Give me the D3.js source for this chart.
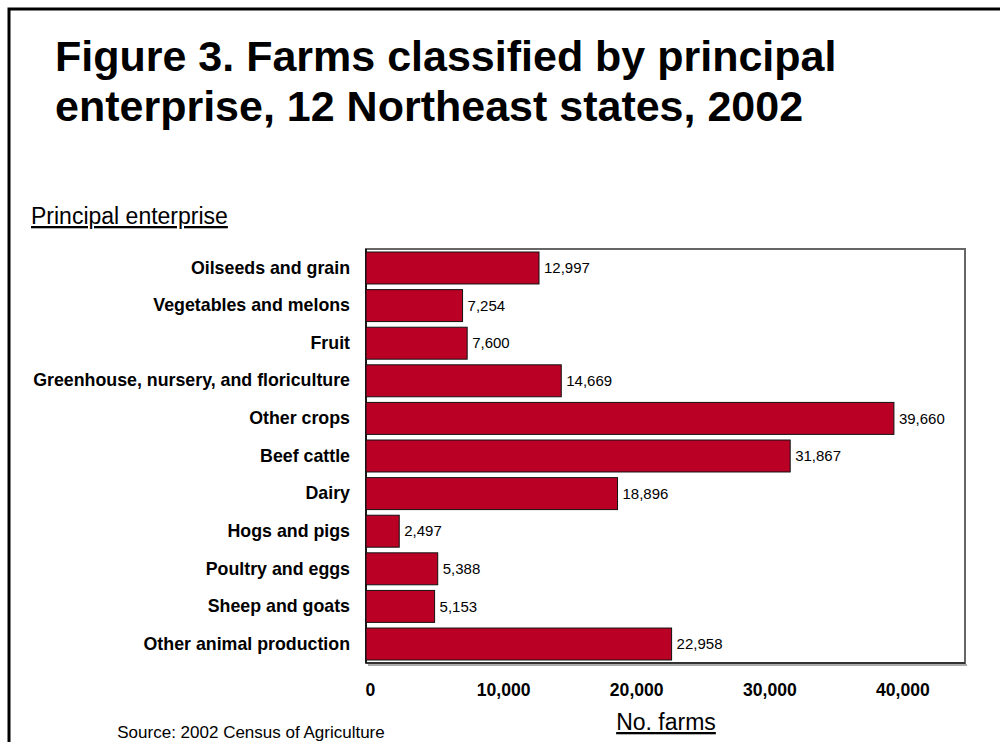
<!DOCTYPE html>
<html>
<head>
<meta charset="utf-8">
<script src="https://cdn.jsdelivr.net/npm/d3@7"></script>
<style>
  html, body { margin: 0; padding: 0; background: #fff; }
  svg { display: block; font-family: "Liberation Sans", Arial, sans-serif; }
</style>
</head>
<body>
<svg id="chart" width="1000" height="742"></svg>
<script>
// Farms by principal enterprise, 12 Northeast states, 2002 Census of Agriculture
const categories = [
  "Oilseeds and grain",
  "Vegetables and melons",
  "Fruit",
  "Greenhouse, nursery, and floriculture",
  "Other crops",
  "Beef cattle",
  "Dairy",
  "Hogs and pigs",
  "Poultry and eggs",
  "Sheep and goats",
  "Other animal production"
];
const farms = [12997, 7254, 7600, 14669, 39660, 31867, 18896, 2497, 5388, 5153, 22958];
const tickValues = [0, 10000, 20000, 30000, 40000];

const svg = d3.select("#chart");
const fmt = d3.format(",");

// outer slide frame
svg.append("rect")
  .attr("x", 9).attr("y", 9)
  .attr("width", 1100).attr("height", 900)
  .attr("fill", "none").attr("stroke", "#000").attr("stroke-width", 3);

// title
const title = svg.append("text")
  .attr("font-size", 43).attr("font-weight", "bold").attr("fill", "#000");
title.append("tspan").attr("x", 55).attr("y", 71).text("Figure 3. Farms classified by principal");
title.append("tspan").attr("x", 55).attr("y", 121).text("enterprise, 12 Northeast states, 2002");

// plot area
const plot = { left: 366, top: 249, right: 965, bottom: 663 };

const x = d3.scaleLinear().domain([0, 45000]).range([plot.left, plot.right]);
const y = d3.scaleBand().domain(categories).range([plot.top, plot.bottom]).paddingInner(0.15).paddingOuter(0.08);

// plot frame with soft shadow on the bottom
svg.append("line")
  .attr("x1", plot.left + 2).attr("x2", plot.right + 2)
  .attr("y1", plot.bottom + 2).attr("y2", plot.bottom + 2)
  .attr("stroke", "#aaa").attr("stroke-width", 2);
svg.append("rect")
  .attr("x", plot.left).attr("y", plot.top)
  .attr("width", plot.right - plot.left).attr("height", plot.bottom - plot.top)
  .attr("fill", "#fff").attr("stroke", "#666").attr("stroke-width", 2);
svg.append("line")
  .attr("x1", plot.left).attr("x2", plot.left)
  .attr("y1", plot.top).attr("y2", plot.bottom)
  .attr("stroke", "#000").attr("stroke-width", 1.5);
svg.append("line")
  .attr("x1", plot.left).attr("x2", plot.right)
  .attr("y1", plot.bottom).attr("y2", plot.bottom)
  .attr("stroke", "#222").attr("stroke-width", 1.5);

const data = categories.map((c, i) => ({ cat: c, val: farms[i] }));

// bars
svg.append("g").selectAll("rect")
  .data(data).join("rect")
  .attr("x", x(0))
  .attr("y", d => y(d.cat))
  .attr("width", d => x(d.val) - x(0))
  .attr("height", y.bandwidth())
  .attr("fill", "#bb0026")
  .attr("stroke", "#111").attr("stroke-width", 1);

// value labels
svg.append("g").selectAll("text")
  .data(data).join("text")
  .attr("x", d => x(d.val) + 5)
  .attr("y", d => y(d.cat) + y.bandwidth() / 2)
  .attr("dy", "0.35em")
  .attr("font-size", 15).attr("fill", "#000")
  .text(d => fmt(d.val));

// category axis labels
const yAxis = d3.axisLeft(y).tickSize(0).tickPadding(16);
const yg = svg.append("g").attr("transform", `translate(${plot.left},0)`).call(yAxis);
yg.select(".domain").remove();
yg.selectAll("text")
  .attr("font-family", "Liberation Sans, Arial, sans-serif")
  .attr("font-size", 17.8).attr("font-weight", "bold").attr("fill", "#000");

// value axis labels
const xAxis = d3.axisBottom(x).tickValues(tickValues).tickSize(0).tickPadding(0).tickFormat(fmt);
const xg = svg.append("g").attr("transform", `translate(4,${plot.bottom + 20})`).call(xAxis);
xg.select(".domain").remove();
xg.selectAll("text")
  .attr("font-family", "Liberation Sans, Arial, sans-serif")
  .attr("font-size", 17.6).attr("font-weight", "bold").attr("fill", "#000");

// axis titles
svg.append("text")
  .attr("x", 31).attr("y", 224)
  .attr("font-size", 23).attr("text-decoration", "underline").attr("fill", "#000")
  .text("Principal enterprise");
svg.append("text")
  .attr("x", 666).attr("y", 730)
  .attr("text-anchor", "middle")
  .attr("font-size", 23).attr("text-decoration", "underline").attr("fill", "#000")
  .text("No. farms");

// source note
svg.append("text")
  .attr("x", 251).attr("y", 738)
  .attr("text-anchor", "middle")
  .attr("font-size", 17).attr("fill", "#000")
  .text("Source: 2002 Census of Agriculture");
</script>
</body>
</html>
